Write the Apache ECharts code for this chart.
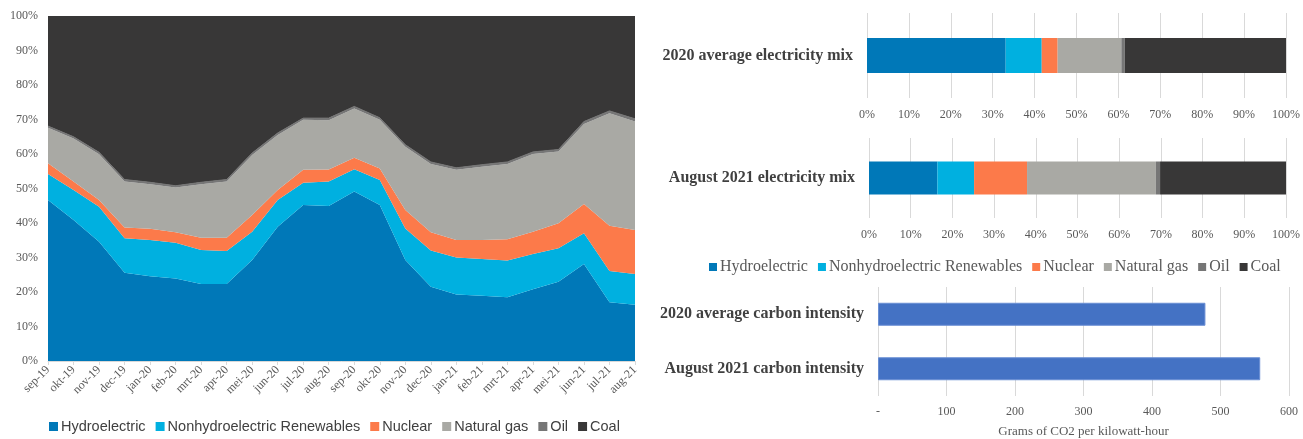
<!DOCTYPE html>
<html>
<head>
<meta charset="utf-8">
<title>Electricity mix</title>
<script src="https://cdn.jsdelivr.net/npm/echarts@6/dist/echarts.min.js"></script>
<style>
	html, body { margin: 0; padding: 0; background: #fff; }
	#mainChart { width: 1303px; height: 439px; }
</style>
</head>
<body>
<div id="mainChart"></div>
<script>
//月份
var months = ['sep-19', 'okt-19', 'nov-19', 'dec-19', 'jan-20', 'feb-20', 'mrt-20', 'apr-20', 'mei-20', 'jun-20', 'jul-20', 'aug-20',
	'sep-20', 'okt-20', 'nov-20', 'dec-20', 'jan-21', 'feb-21', 'mrt-21', 'apr-21', 'mei-21', 'jun-21', 'jul-21', 'aug-21'];
var sourceNames = ['Hydroelectric', 'Nonhydroelectric Renewables', 'Nuclear', 'Natural gas', 'Oil', 'Coal'];
var sourceColors = ['#0078b8', '#00b0e0', '#fc7a4a', '#a9a9a4', '#767676', '#383737'];
//每月占比 (%)
var hydroShare = [46.7, 40.9, 34.6, 25.6, 24.6, 23.9, 22.3, 22.3, 29.3, 38.9, 45.2, 44.9, 49.1, 45.2, 29.3, 21.5, 19.3, 18.9, 18.5, 20.8, 23.0, 28.1, 17.0, 16.3];
var renewShare = [7.5, 8.7, 10.1, 10.0, 10.5, 10.4, 9.9, 9.6, 8.2, 7.8, 6.5, 7.1, 6.5, 7.3, 9.1, 10.5, 10.7, 10.7, 10.6, 10.2, 9.7, 8.9, 9.1, 8.9];
var nuclearShare = [3.1, 2.4, 2.0, 3.1, 3.2, 3.0, 3.5, 3.8, 4.8, 2.9, 3.7, 3.5, 3.3, 3.3, 5.4, 5.3, 5.1, 5.5, 6.2, 6.5, 7.2, 8.5, 13.1, 12.8];
var gasShare = [10.3, 12.5, 13.2, 13.3, 12.9, 13.0, 15.5, 16.3, 17.4, 15.9, 14.5, 14.3, 14.3, 14.1, 18.3, 19.8, 20.3, 21.2, 21.8, 22.5, 20.8, 23.2, 32.6, 31.4];
var oilShare = [0.5, 0.5, 0.6, 0.6, 0.6, 0.5, 0.6, 0.6, 0.6, 0.6, 0.5, 0.6, 0.6, 0.6, 0.6, 0.6, 0.6, 0.6, 0.6, 0.6, 0.6, 0.7, 0.7, 0.8];
var coalShare = [31.9, 35.0, 39.5, 47.4, 48.2, 49.2, 48.2, 47.4, 39.7, 33.9, 29.6, 29.6, 26.2, 29.5, 37.3, 42.3, 44.0, 43.1, 42.3, 39.4, 38.7, 30.6, 27.5, 29.8];
//平均结构 (%)
var mix2020 = [33.1, 8.6, 3.8, 15.2, 0.8, 38.5];
var mixAug2021 = [16.4, 8.8, 12.7, 30.9, 1.0, 30.2];
//碳强度
var intensityNames = ['2020 average carbon intensity', 'August 2021 carbon intensity'];
var intensityValues = [478, 558];

var serif = '"Liberation Serif", "DejaVu Serif", serif';
var sans = '"Liberation Sans", Arial, sans-serif';

initChart();

function initChart(){
	var monthData = [hydroShare, renewShare, nuclearShare, gasShare, oilShare, coalShare];
	var series = [];
	//面积图
	for(var i = 0; i < sourceNames.length; i++){
		series.push({
			name: sourceNames[i],
			type: 'line',
			stack: 'monthly',
			xAxisIndex: 0,
			yAxisIndex: 0,
			symbol: 'none',
			lineStyle: { width: i == 4 ? 1 : 0, color: sourceColors[i] },
			areaStyle: { color: sourceColors[i], opacity: 1 },
			itemStyle: { color: sourceColors[i] },
			data: monthData[i]
		});
	}
	//结构条形图
	for(var i = 0; i < sourceNames.length; i++){
		series.push({
			name: sourceNames[i],
			type: 'bar',
			stack: 'mix2020',
			xAxisIndex: 1,
			yAxisIndex: 1,
			barWidth: 35,
			itemStyle: { color: sourceColors[i] },
			data: [mix2020[i]]
		});
		series.push({
			name: sourceNames[i],
			type: 'bar',
			stack: 'mix2021',
			xAxisIndex: 2,
			yAxisIndex: 2,
			barWidth: 33,
			itemStyle: { color: sourceColors[i] },
			data: [mixAug2021[i]]
		});
	}
	series.push({
		name: 'Carbon intensity',
		type: 'bar',
		xAxisIndex: 3,
		yAxisIndex: 3,
		barWidth: 23,
		itemStyle: { color: '#4472c4', borderColor: '#6a8fd4', borderWidth: 1 },
		data: intensityValues
	});

	var pctAxis = function(idx){
		return {
			type: 'value',
			gridIndex: idx,
			min: 0,
			max: 100,
			interval: 10,
			axisLine: { show: false },
			axisTick: { show: false },
			axisLabel: { formatter: '{value}%', fontFamily: serif, fontSize: 12, color: '#595959', margin: 11 },
			splitLine: { lineStyle: { color: '#d9d9d9' } }
		};
	};
	var catAxis = function(idx, names){
		return {
			type: 'category',
			gridIndex: idx,
			data: names,
			inverse: true,
			axisLine: { show: false },
			axisTick: { show: false },
			axisLabel: { fontFamily: serif, fontSize: 16, fontWeight: 'bold', color: '#404040', margin: 14 }
		};
	};

	var chart = echarts.init(document.getElementById('mainChart'));
	var option = {
		animation: false,
		backgroundColor: '#fff',
		grid: [
			{ left: 48, top: 16, width: 587, height: 345 },
			{ left: 867, top: 13, width: 420, height: 85 },
			{ left: 869, top: 138, width: 420, height: 80 },
			{ left: 878, top: 287, width: 411, height: 115 }
		],
		legend: [
			{
				left: 44,
				top: 414,
				itemWidth: 9,
				itemHeight: 9,
				itemGap: 10,
				icon: 'rect',
				textStyle: { fontFamily: sans, fontSize: 14.5, color: '#404040', padding: [0, 0, 0, -2] },
				data: sourceNames
			},
			{
				left: 704,
				top: 254,
				width: 600,
				itemWidth: 8,
				itemHeight: 8,
				itemGap: 10,
				icon: 'rect',
				textStyle: { fontFamily: serif, fontSize: 16, color: '#595959', padding: [0, 0, 0, -2] },
				data: sourceNames
			}
		],
		xAxis: [
			{
				type: 'category',
				gridIndex: 0,
				data: months,
				boundaryGap: false,
				axisLine: { lineStyle: { color: '#d9d9d9' } },
				axisTick: { length: 4, lineStyle: { color: '#d9d9d9' } },
				axisLabel: { interval: 0, rotate: 45, fontFamily: serif, fontSize: 12, color: '#595959', margin: 7 }
			},
			pctAxis(1),
			pctAxis(2),
			{
				type: 'value',
				gridIndex: 3,
				min: 0,
				max: 600,
				interval: 100,
				name: 'Grams of CO2 per kilowatt-hour',
				nameLocation: 'middle',
				nameGap: 29,
				nameTextStyle: { fontFamily: serif, fontSize: 13, color: '#595959' },
				axisLine: { show: false },
				axisTick: { show: false },
				axisLabel: {
					fontFamily: serif, fontSize: 12, color: '#595959', margin: 10,
					formatter: function(v){ return v == 0 ? '-' : v; }
				},
				splitLine: { lineStyle: { color: '#d9d9d9' } }
			}
		],
		yAxis: [
			{
				type: 'value',
				gridIndex: 0,
				min: 0,
				max: 100,
				interval: 10,
				axisLine: { show: false },
				axisTick: { show: false },
				splitLine: { show: false },
				axisLabel: { formatter: '{value}%', fontFamily: serif, fontSize: 12, color: '#595959', margin: 10 }
			},
			catAxis(1, ['2020 average electricity mix']),
			catAxis(2, ['August 2021 electricity mix']),
			catAxis(3, intensityNames)
		],
		series: series
	};
	chart.setOption(option);
}
</script>
</body>
</html>
